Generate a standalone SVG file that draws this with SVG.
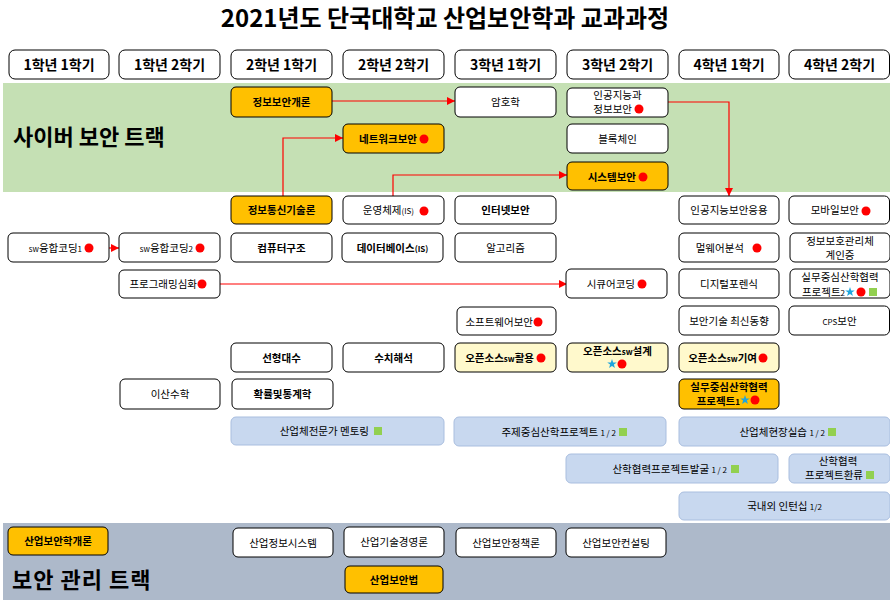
<svg xmlns="http://www.w3.org/2000/svg" xmlns:xlink="http://www.w3.org/1999/xlink" width="890" height="600" viewBox="0 0 890 600">
<style>
.bx{stroke:#000;stroke-width:1}
.w{fill:#fff}
.o{fill:#ffc000}
.y{fill:#fff9cc}
.bl{fill:#c8d8ef;stroke:#a9bedf;stroke-width:1}
.t{font-family:"Noto Sans CJK KR","Noto Sans",sans-serif;font-size:10.5px;fill:#000}
.b{font-weight:bold}
.m{text-anchor:middle}
.e{text-anchor:end}
.s{font-size:8px}
.hd{font-family:"Noto Sans CJK KR","Noto Sans",sans-serif;font-size:14px;font-weight:bold;text-anchor:middle;fill:#000}
.trk{font-family:"Noto Sans CJK KR","Noto Sans",sans-serif;font-size:22px;font-weight:bold;fill:#000}
.cn{stroke:#ff0000;stroke-width:1.2;fill:none;marker-end:url(#ah)}
</style>
<defs>
<marker id="ah" markerUnits="userSpaceOnUse" markerWidth="8" markerHeight="8" refX="8" refY="4" orient="auto"><path d="M0,0 L8,4 L0,8 z" fill="#ff0000"/></marker>
<circle id="dot" r="4.5" fill="#ff0000"/>
<polygon id="star" points="0,-5 1.18,-1.62 4.76,-1.55 1.9,0.62 2.94,4.05 0,2 -2.94,4.05 -1.9,0.62 -4.76,-1.55 -1.18,-1.62" fill="#1fa6dd"/>
<rect id="sq" x="-4" y="-4" width="8" height="8" fill="#92d050"/>
</defs>
<rect width="890" height="600" fill="#fff"/>
<text x="445" y="27" font-family="Noto Sans CJK KR, Noto Sans, sans-serif" font-size="24" font-weight="bold" text-anchor="middle">2021년도 단국대학교 산업보안학과 교과과정</text>

<g id="bands">
<rect x="3" y="83" width="887" height="109" fill="#c5e0b4"/>
<rect x="3" y="523" width="887" height="77" fill="#adb9ca"/>
<text class="trk" x="13" y="145">사이버 보안 트랙</text>
<text class="trk" x="12" y="588" letter-spacing="1">보안 관리 트랙</text>
</g>

<g id="headers">
<g id="h1"><rect class="bx w" x="9" y="50" width="100" height="29" rx="6"/><text class="hd" x="59" y="69.5">1학년 1학기</text></g>
<g id="h2"><rect class="bx w" x="119" y="50" width="101" height="29" rx="6"/><text class="hd" x="169.5" y="69.5">1학년 2학기</text></g>
<g id="h3"><rect class="bx w" x="231" y="50" width="101" height="29" rx="6"/><text class="hd" x="281.5" y="69.5">2학년 1학기</text></g>
<g id="h4"><rect class="bx w" x="343" y="50" width="101" height="29" rx="6"/><text class="hd" x="393.5" y="69.5">2학년 2학기</text></g>
<g id="h5"><rect class="bx w" x="455" y="50" width="101" height="29" rx="6"/><text class="hd" x="505.5" y="69.5">3학년 1학기</text></g>
<g id="h6"><rect class="bx w" x="567" y="50" width="101" height="29" rx="6"/><text class="hd" x="617.5" y="69.5">3학년 2학기</text></g>
<g id="h7"><rect class="bx w" x="679" y="50" width="100" height="29" rx="6"/><text class="hd" x="729" y="69.5">4학년 1학기</text></g>
<g id="h8"><rect class="bx w" x="789" y="50" width="100.5" height="29" rx="6"/><text class="hd" x="839.5" y="69.5">4학년 2학기</text></g>
</g>

<g id="connectors">
<path class="cn" d="M332,101 H455"/>
<path class="cn" d="M283,196 V138 H343"/>
<path class="cn" d="M393,196 V175 H567"/>
<path class="cn" d="M668,102 H729 V196"/>
<path class="cn" d="M109,248 H119"/>
<path class="cn" d="M220,284 H567"/>
</g>

<g id="n-infosec-intro"><rect class="bx o" x="231" y="87" width="101" height="30" rx="5"/><text class="t b m" x="281.5" y="106">정보보안개론</text></g>
<g id="n-network"><rect class="bx o" x="343" y="124" width="101" height="29" rx="5"/><text class="t b e" x="417" y="142.5">네트워크보안</text><use href="#dot" x="424" y="139"/></g>
<g id="n-crypto"><rect class="bx w" x="455" y="87" width="101" height="30" rx="5"/><text class="t m" x="505.5" y="106">암호학</text></g>
<g id="n-ai-sec"><rect class="bx w" x="567" y="88" width="101" height="29" rx="5"/><text class="t m" x="617.5" y="99">인공지능과</text><text class="t e" x="632" y="113">정보보안</text><use href="#dot" x="639" y="109"/></g>
<g id="n-blockchain"><rect class="bx w" x="567" y="124" width="101" height="29" rx="5"/><text class="t m" x="617.5" y="142.5">블록체인</text></g>
<g id="n-syssec"><rect class="bx o" x="567" y="162" width="101" height="28" rx="5"/><text class="t b e" x="636" y="180.5">시스템보안</text><use href="#dot" x="643" y="177"/></g>

<g id="n-ict"><rect class="bx o" x="231" y="196" width="101" height="28" rx="5"/><text class="t b m" x="281.5" y="214" font-size="11.5">정보통신기술론</text></g>
<g id="n-os"><rect class="bx w" x="343" y="196" width="101" height="28" rx="5"/><text class="t e" x="414" y="214" font-size="11.5">운영체제<tspan class="s">(IS)</tspan></text><use href="#dot" x="424" y="211"/></g>
<g id="n-internetsec"><rect class="bx w" x="455" y="196" width="101" height="28" rx="5"/><text class="t b m" x="505.5" y="214" font-size="11.5">인터넷보안</text></g>
<g id="n-ai-app"><rect class="bx w" x="679" y="196" width="100" height="28" rx="5"/><text class="t m" x="729" y="214" font-size="11">인공지능보안응용</text></g>
<g id="n-mobile"><rect class="bx w" x="789" y="196" width="100.5" height="28" rx="5"/><text class="t e" x="859" y="214">모바일보안</text><use href="#dot" x="866" y="211"/></g>

<g id="n-sw1"><rect class="bx w" x="8" y="233" width="101" height="29" rx="5"/><text class="t e" x="82" y="251.5"><tspan class="s">sw</tspan>융합코딩<tspan class="s">1</tspan></text><use href="#dot" x="89" y="248"/></g>
<g id="n-sw2"><rect class="bx w" x="119" y="233" width="101" height="29" rx="5"/><text class="t e" x="193" y="251.5"><tspan class="s">sw</tspan>융합코딩<tspan class="s">2</tspan></text><use href="#dot" x="200" y="248"/></g>
<g id="n-arch"><rect class="bx w" x="231" y="233" width="101" height="29" rx="5"/><text class="t b m" x="281.5" y="252" font-size="11.5">컴퓨터구조</text></g>
<g id="n-db"><rect class="bx w" x="342" y="233" width="101" height="29" rx="5"/><text class="t b m" x="392.5" y="252" font-size="11.5">데이터베이스<tspan class="s">(IS)</tspan></text></g>
<g id="n-algo"><rect class="bx w" x="455" y="233" width="101" height="29" rx="5"/><text class="t m" x="505.5" y="252" font-size="11.5">알고리즘</text></g>
<g id="n-malware"><rect class="bx w" x="679" y="233" width="100" height="29" rx="5"/><text class="t e" x="744" y="252" font-size="11">멀웨어분석</text><use href="#dot" x="757" y="248"/></g>
<g id="n-isms"><rect class="bx w" x="790" y="233" width="100" height="29" rx="5"/><text class="t m" x="840" y="245">정보보호관리체</text><text class="t m" x="840" y="259">계인증</text></g>

<g id="n-prog"><rect class="bx w" x="119" y="270" width="101" height="28" rx="5"/><text class="t e" x="197" y="288">프로그래밍심화</text><use href="#dot" x="202" y="284"/></g>
<g id="n-securecoding"><rect class="bx w" x="566" y="269" width="101" height="29" rx="5"/><text class="t e" x="635" y="288" font-size="11">시큐어코딩</text><use href="#dot" x="642" y="284"/></g>
<g id="n-forensic"><rect class="bx w" x="679" y="269" width="100" height="29" rx="5"/><text class="t m" x="729" y="288" font-size="11">디지털포렌식</text></g>
<g id="n-proj2"><rect class="bx w" x="790" y="269" width="100" height="29" rx="5"/><text class="t m" x="840" y="281">실무중심산학협력</text><text class="t e" x="845" y="295.5">프로젝트<tspan class="s">2</tspan></text><use href="#star" x="850" y="292"/><use href="#dot" x="861" y="292"/><use href="#sq" x="873" y="292"/></g>

<g id="n-swsec"><rect class="bx w" x="457" y="307" width="99" height="28" rx="5"/><text class="t e" x="533" y="325.5">소프트웨어보안</text><use href="#dot" x="538" y="322"/></g>
<g id="n-trend"><rect class="bx w" x="679" y="306" width="100" height="29" rx="5"/><text class="t m" x="729" y="325" font-size="11">보안기술 최신동향</text></g>
<g id="n-cps"><rect class="bx w" x="789" y="306" width="100.5" height="29" rx="5"/><text class="t m" x="839.5" y="325"><tspan class="s">CPS</tspan>보안</text></g>

<g id="n-linalg"><rect class="bx w" x="231" y="343" width="101" height="29" rx="5"/><text class="t b m" x="281.5" y="361.5">선형대수</text></g>
<g id="n-numeric"><rect class="bx w" x="343" y="343" width="101" height="29" rx="5"/><text class="t b m" x="393.5" y="361.5">수치해석</text></g>
<g id="n-oss1"><rect class="bx y" x="455" y="343" width="101" height="29" rx="5"/><text class="t b e" x="534" y="361.5">오픈소스<tspan class="s">sw</tspan>활용</text><use href="#dot" x="541" y="358"/></g>
<g id="n-oss2"><rect class="bx y" x="567" y="343" width="101" height="29" rx="5"/><text class="t b m" x="617.5" y="355">오픈소스<tspan class="s">sw</tspan>설계</text><use href="#star" x="612" y="364"/><use href="#dot" x="622" y="364"/></g>
<g id="n-oss3"><rect class="bx y" x="679" y="343" width="100" height="29" rx="5"/><text class="t b e" x="757" y="361.5">오픈소스<tspan class="s">sw</tspan>기여</text><use href="#dot" x="763" y="358"/></g>

<g id="n-discrete"><rect class="bx w" x="120" y="379" width="100" height="30" rx="5"/><text class="t m" x="170" y="398">이산수학</text></g>
<g id="n-prob"><rect class="bx w" x="232" y="379" width="101" height="30" rx="5"/><text class="t b m" x="282.5" y="398">확률및통계학</text></g>
<g id="n-proj1"><rect class="bx o" x="679" y="379" width="100" height="30" rx="5"/><text class="t b m" x="729" y="391">실무중심산학협력</text><text class="t b e" x="740" y="405">프로젝트<tspan class="s">1</tspan></text><use href="#star" x="745" y="400"/><use href="#dot" x="755" y="400"/></g>

<g id="n-mentoring"><rect class="bl" x="231" y="417" width="213" height="28" rx="5"/><text class="t e" x="369" y="435">산업체전문가 멘토링</text><use href="#sq" x="378" y="431"/></g>
<g id="n-topic"><rect class="bl" x="454" y="417" width="212" height="29" rx="5"/><text class="t e" x="616" y="436">주제중심산학프로젝트 <tspan class="s">1 / 2</tspan></text><use href="#sq" x="623" y="432"/></g>
<g id="n-intern-site"><rect class="bl" x="679" y="417" width="211" height="29" rx="5"/><text class="t e" x="825" y="436">산업체현장실습 <tspan class="s">1 / 2</tspan></text><use href="#sq" x="832" y="432"/></g>
<g id="n-discover"><rect class="bl" x="566" y="454" width="212" height="29" rx="5"/><text class="t e" x="727" y="473">산학협력프로젝트발굴 <tspan class="s">1 / 2</tspan></text><use href="#sq" x="735" y="469"/></g>
<g id="n-feedback"><rect class="bl" x="789" y="454" width="101" height="29" rx="5"/><text class="t m" x="838" y="465" font-size="10">산학협력</text><text class="t e" x="863" y="479" font-size="10">프로젝트환류</text><use href="#sq" x="870" y="475"/></g>
<g id="n-internship"><rect class="bl" x="679" y="492" width="211" height="28" rx="5"/><text class="t m" x="784.5" y="510">국내외 인턴십 <tspan class="s">1/2</tspan></text></g>

<g id="n-isec-intro"><rect class="bx o" x="8" y="527" width="100" height="28" rx="5"/><text class="t b m" x="58" y="545">산업보안학개론</text></g>
<g id="n-indsys"><rect class="bx w" x="233" y="528" width="100" height="29" rx="5"/><text class="t m" x="283" y="546.5">산업정보시스템</text></g>
<g id="n-techmgmt"><rect class="bx w" x="344" y="527" width="100" height="30" rx="5"/><text class="t m" x="394" y="546">산업기술경영론</text></g>
<g id="n-policy"><rect class="bx w" x="456" y="528" width="100" height="29" rx="5"/><text class="t m" x="506" y="546.5">산업보안정책론</text></g>
<g id="n-consult"><rect class="bx w" x="566" y="528" width="100" height="29" rx="5"/><text class="t m" x="616" y="546.5">산업보안컨설팅</text></g>
<g id="n-law"><rect class="bx o" x="345" y="566" width="98" height="27" rx="5"/><text class="t b m" x="394" y="583.5">산업보안법</text></g>
</svg>
